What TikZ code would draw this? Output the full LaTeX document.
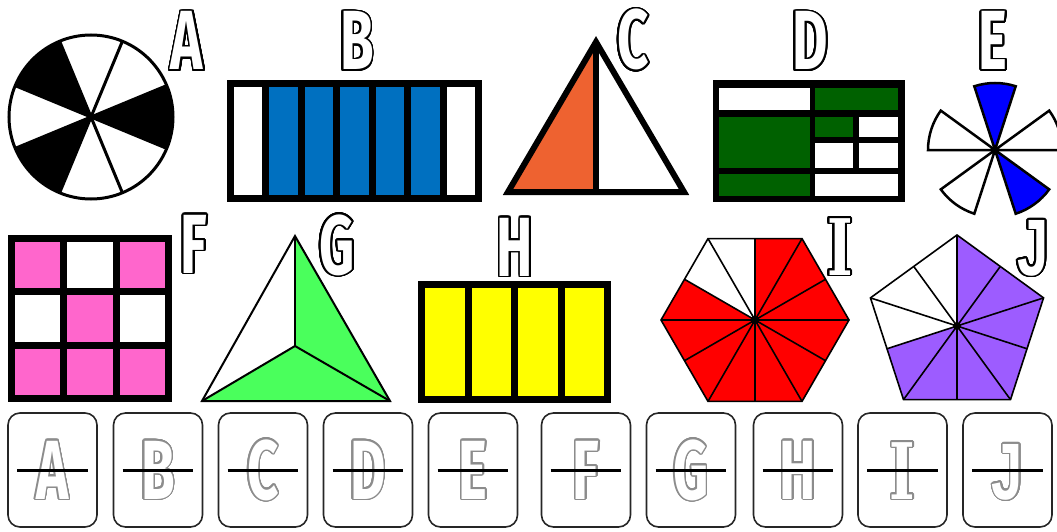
\documentclass[tikz,border=0pt]{standalone}
\usepackage{fontspec}
\usepackage{xcolor}
\usepackage{tikz}
\usepackage{contour}
\usetikzlibrary{positioning, calc}
\newfontfamily\letterfont[FakeStretch=0.65]{Fira Sans}
\newfontfamily\slabfont[FakeStretch=0.7]{DejaVu Serif}
\newfontfamily\plainfont[FakeStretch=0.7]{Liberation Sans}
\definecolor{barblue}{HTML}{0070C0}
\definecolor{wedgeorange}{HTML}{EE6230}
\definecolor{plangreen}{HTML}{006100}
\definecolor{petalblue}{HTML}{0000FF}
\definecolor{cellpink}{HTML}{FF66CC}
\definecolor{facegreen}{HTML}{4AFF5C}
\definecolor{stripyellow}{HTML}{FFFF00}
\definecolor{hexred}{HTML}{FF0000}
\definecolor{pentpurple}{HTML}{9D5CFF}
\contournumber{32}
\newcommand{\toplbl}[1]{\contourlength{1.8pt}\contour{black}{#1}}
\newcommand{\ghostlbl}[1]{\contourlength{1.4pt}\contour{black!45}{#1}}
\newcommand{\slabI}{{\slabfont\bfseries\fontsize{78}{78}\selectfont I}}
\newcommand{\plainJ}{{\plainfont\bfseries\fontsize{80}{80}\selectfont J}}

\begin{document}
\begin{tikzpicture}[x=1pt, y=-1pt,
    biglabel/.style={text=white, inner sep=0pt, text height=58pt, text depth=0pt,
        font=\letterfont\bfseries\fontsize{84}{84}\selectfont},
    ansbox/.style={biglabel, draw=black!85, line width=1.6pt, rounded corners=12pt,
        minimum width=89pt, minimum height=114pt},
    strike/.style={line width=3pt},
    thickrule/.style={line width=7pt}]
    \useasboundingbox (0,0) rectangle (1057,532);

    % Circle A
    \begin{scope}[shift={(91,117)}, line width=3pt]
        \foreach \a in {-22.5, 112.5, 202.5}
            \fill (0,0) -- (-\a:82) arc[start angle=-\a, end angle=-\a-45, radius=82] -- cycle;
        \foreach \a in {22.5, 67.5, ..., 337.5}
            \draw (0,0) -- (\a:82);
        \draw (0,0) circle[radius=82];
    \end{scope}

    % Bar B
    \fill[barblue] (265.9,83.5) rectangle (443.1,198.5);
    \draw[thickrule] (230.5,83.5) rectangle (478.5,198.5);
    \foreach \i in {1,...,6}
        \draw[thickrule] (230.5+\i*35.43,83.5) -- ++(0,115);

    % Triangle C
    \fill[wedgeorange] (596,42) -- (508,192) -- (596,192) -- cycle;
    \draw[line width=6pt] (596,42) -- (508,192) -- (684,192) -- cycle;
    \draw[line width=6pt] (596,42) -- (596,192);

    % Plan D
    \fill (713,80) rectangle (905,202);
    \foreach \xa/\ya/\xb/\yb/\c in {719/88/810/110/white, 815/88/898/110/plangreen,
            719/117/810/168/plangreen, 815/117/853/137/plangreen, 859/117/898/137/white,
            815/143/853/168/white, 859/143/898/168/white,
            719/174/810/196/plangreen, 815/174/898/196/white}
        \fill[\c] (\xa,\ya) rectangle (\xb,\yb);

    % Petals E
    \begin{scope}[shift={(995,150)}, line width=2.5pt]
        \foreach \a/\c in {0/white, 72/petalblue, 144/white, 216/white, 288/petalblue}
            \filldraw[fill=\c] (0,0) -- (-\a:67) arc[start angle=-\a, end angle=-\a-36, radius=67] -- cycle;
    \end{scope}

    % Grid F
    \foreach \c/\r in {0/0, 2/0, 1/1, 0/2, 1/2, 2/2}
        \fill[cellpink] (11.5+\c*52.33,238.5+\r*53.33) rectangle ++(52.33,53.33);
    \draw[thickrule] (11.5,238.5) rectangle (168.5,398.5);
    \foreach \i in {1,2} {
        \draw[thickrule] (11.5+\i*52.33,238.5) -- ++(0,160);
        \draw[thickrule] (11.5,238.5+\i*53.33) -- ++(157,0);
    }

    % Triangle G
    \coordinate (gTop) at (295,236);
    \coordinate (gLeft) at (202,401);
    \coordinate (gRight) at (390,401);
    \coordinate (gMid) at (295,346);
    \fill[facegreen] (gTop) -- (gMid) -- (gLeft) -- (gRight) -- cycle;
    \draw[line width=2pt] (gTop) -- (gLeft) -- (gRight) -- cycle;
    \foreach \p in {gTop, gLeft, gRight}
        \draw[line width=2pt] (gMid) -- (\p);

    % Strips H
    \filldraw[thickrule, fill=stripyellow] (421.5,284.5) rectangle (607.5,399.5);
    \foreach \x in {468, 514.5, 561}
        \draw[thickrule] (\x,284.5) -- (\x,399.5);

    % Hexagon I
    \begin{scope}[shift={(755,320)}, line width=1.6pt]
        \fill[hexred] (0:94) -- (60:94) -- (120:94) -- (180:94) -- (240:94) -- (300:94) -- cycle;
        \fill[white] (0,0) -- (-90:81.4) -- (-120:94) -- (-150:81.4) -- cycle;
        \foreach \a in {0, 60, ..., 300}
            \draw (0,0) -- (\a:94);
        \foreach \a in {30, 90, ..., 330}
            \draw (0,0) -- (\a:81.4);
        \draw (0:94) -- (60:94) -- (120:94) -- (180:94) -- (240:94) -- (300:94) -- cycle;
        \fill (0,0) circle[radius=4];
    \end{scope}

    % Pentagon J
    \begin{scope}[shift={(957,326)}, line width=1.6pt]
        \fill[pentpurple] (-90:91) -- (-162:91) -- (-234:91) -- (-306:91) -- (-18:91) -- cycle;
        \fill[white] (0,0) -- (-90:91) -- (-126:73.6) -- (-162:91) -- (-198:73.6) -- cycle;
        \foreach \a in {18, 90, ..., 306}
            \draw (0,0) -- (-\a:91);
        \foreach \a in {54, 126, ..., 342}
            \draw (0,0) -- (-\a:73.6);
        \draw (-90:91) -- (-162:91) -- (-234:91) -- (-306:91) -- (-18:91) -- cycle;
        \fill (0,0) circle[radius=4];
    \end{scope}

    % Letters
    \foreach \l/\t/\x/\y in {A/A/187/41, B/B/357/41, C/C/633/40, D/D/810/41, E/E/993/41,
            F/F/194/244, G/G/337/245, H/H/515/247, I/\slabI/840/246, J/\plainJ/1033/246}
        \node[biglabel] (lab\l) at (\x,\y) {\toplbl{\t}};

    % Answer boxes
    \foreach \l/\t/\x in {A/A/52.5, B/B/158, C/C/263, D/D/368, E/E/473,
            F/F/586, G/G/691, H/H/798, I/\slabI/902.5, J/\plainJ/1007.5} {
        \node[ansbox] (box\l) at (\x,470) {\ghostlbl{\t}};
        \draw[strike] ([xshift=10pt]box\l.west) -- ([xshift=-10pt]box\l.east);
    }
\end{tikzpicture}
\end{document}
